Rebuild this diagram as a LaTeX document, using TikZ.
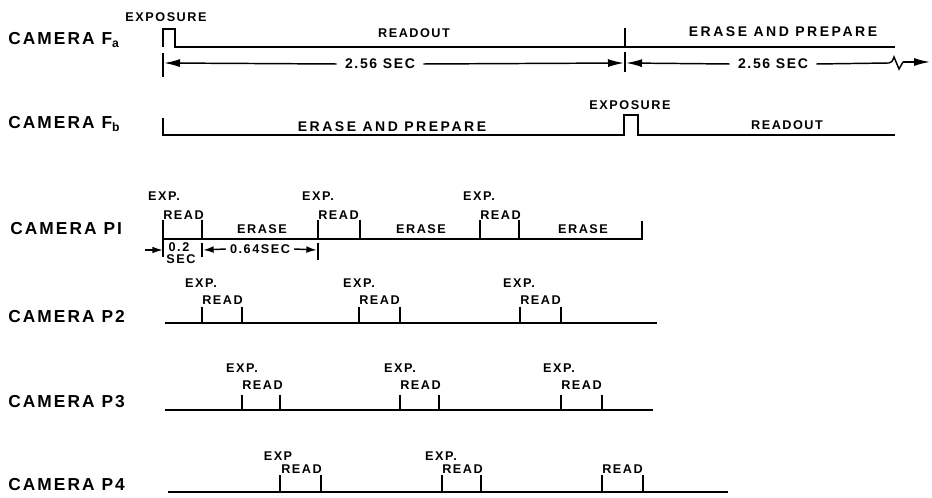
\documentclass[tikz,border=0pt]{standalone}
\usepackage{fontspec}
\setmainfont{Liberation Sans}[LetterSpace=12]
\usetikzlibrary{arrows.meta}
\tikzset{
    camlabel/.style={anchor=west,inner sep=0pt,font=\fontsize{13}{15}\selectfont\bfseries},
    tag/.style={inner sep=0pt,font=\fontsize{9.5}{11}\selectfont\bfseries},
    widetag/.style={inner sep=0pt,font=\fontsize{10.5}{12}\selectfont\bfseries\addfontfeature{LetterSpace=18}},
    readtag/.style={tag,anchor=west},
    dimtag/.style={inner sep=0pt,inner xsep=6pt,font=\fontsize{10.5}{12}\selectfont\bfseries},
    trace/.style={line width=2.2pt},
    dimline/.style={line width=1.1pt},
    dimarrow/.style={dimline,-{Latex[length=12pt,width=6pt]}},
    smallarrow/.style={dimline,-{Latex[length=8pt,width=5pt]}}
}
\begin{document}
\begin{tikzpicture}[x=0.75pt,y=0.75pt,yscale=-1,xscale=1]
        \useasboundingbox (0,0) rectangle (932,498);
        % camera Fa
        \node[camlabel] (camFa) at (8,40) {CAMERA F\textsubscript{a}};
        \draw[trace] (163,47) -- (163,29) -- (175,29) -- (175,47) -- (895,47) ;
        \draw[trace] (625,28) -- (625,47) ;
        \node[tag] (faExp) at (166,17) {EXPOSURE};
        \node[tag] (faRead) at (414,33) {READOUT};
        \node[widetag] (faErase) at (783,32) {ERASE AND PREPARE};
        \draw[dimline] (163,53) -- (163,77) ;
        \draw[dimline] (625,52) -- (625,72) ;
        \coordinate (faL) at (164,63);
        \coordinate (faM) at (624,63);
        \coordinate (faN) at (626,63);
        \coordinate (faZ) at (903,62);
        \coordinate (faR) at (930,62);
        \node[dimtag] (faSecA) at (380,64) {2.56 SEC};
        \node[dimtag] (faSecB) at (773,64) {2.56 SEC};
        \draw[dimarrow] (faSecA.west) -- (faL) ;
        \draw[dimarrow] (faSecA.east) -- (faM) ;
        \draw[dimarrow] (faSecB.west) -- (faN) ;
        % break mark before the open end
        \draw[dimline] (faSecB.east) -- (889,63) .. controls (892,62) .. (894,57) -- (899,69) -- (faZ) ;
        \draw[dimarrow] (faZ) -- (faR) ;
        % camera Fb
        \node[camlabel] (camFb) at (8,124) {CAMERA F\textsubscript{b}};
        \draw[trace] (163,118) -- (163,135) -- (624,135) -- (624,115) -- (638,115) -- (638,135) -- (895,135) ;
        \node[widetag] (fbErase) at (392,127) {ERASE AND PREPARE};
        \node[tag] (fbExp) at (630,105) {EXPOSURE};
        \node[tag] (fbRead) at (787,125) {READOUT};
        % camera P1
        \node[camlabel] (camPa) at (10,229) {CAMERA PI};
        \draw[trace] (163,220) -- (163,239) -- (642,239) -- (642,221) ;
        \draw[trace] (202,220) -- (202,239) (318,220) -- (318,239) (360,220) -- (360,239) (480,220) -- (480,239) (519,220) -- (519,239) ;
        \node[tag] (paExpA) at (164,196) {EXP.};
        \node[tag] (paExpB) at (318,196) {EXP.};
        \node[tag] (paExpC) at (479,196) {EXP.};
        \node[readtag] (paReadA) at (163,215) {READ};
        \node[readtag] (paReadB) at (318,215) {READ};
        \node[readtag] (paReadC) at (480,215) {READ};
        \node[tag] (paEraseA) at (262,229) {ERASE};
        \node[tag] (paEraseB) at (421,229) {ERASE};
        \node[tag] (paEraseC) at (583,229) {ERASE};
        \draw[dimline] (163,239) -- (163,257) ;
        \draw[dimline] (202,243) -- (202,257) ;
        \draw[dimline] (318,243) -- (318,260) ;
        \coordinate (paD0) at (145,250);
        \coordinate (paD1) at (163,250);
        \coordinate (paD2) at (203,250);
        \coordinate (paD3) at (317,250);
        \draw[smallarrow] (paD0) -- (paD1) ;
        \node[tag] (paTwo) at (179,247) {0.2};
        \node[tag] (paSec) at (181,259) {SEC};
        \node[tag,inner xsep=3pt] (paSecB) at (260,249) {0.64SEC};
        \draw[smallarrow] (paSecB.west) -- (paD2) ;
        \draw[smallarrow] (paSecB.east) -- (paD3) ;
        % camera P2
        \node[camlabel] (camPb) at (8,317) {CAMERA P2};
        \draw[trace] (165,323) -- (657,323) ;
        \draw[trace] (202,307) -- (202,323) (242,307) -- (242,323) (359,307) -- (359,323) (400,307) -- (400,323) (520,307) -- (520,323) (561,307) -- (561,323) ;
        \node[tag] (pbExpA) at (201,283) {EXP.};
        \node[tag] (pbExpB) at (359,283) {EXP.};
        \node[tag] (pbExpC) at (519,283) {EXP.};
        \node[readtag] (pbReadA) at (202,300) {READ};
        \node[readtag] (pbReadB) at (359,300) {READ};
        \node[readtag] (pbReadC) at (520,300) {READ};
        % camera P3
        \node[camlabel] (camPc) at (8,402) {CAMERA P3};
        \draw[trace] (165,410) -- (653,410) ;
        \draw[trace] (242,395) -- (242,410) (280,395) -- (280,410) (400,395) -- (400,410) (439,395) -- (439,410) (561,395) -- (561,410) (602,395) -- (602,410) ;
        \node[tag] (pcExpA) at (242,368) {EXP.};
        \node[tag] (pcExpB) at (400,368) {EXP.};
        \node[tag] (pcExpC) at (559,368) {EXP.};
        \node[readtag] (pcReadA) at (242,385) {READ};
        \node[readtag] (pcReadB) at (400,385) {READ};
        \node[readtag] (pcReadC) at (561,385) {READ};
        % camera P4
        \node[camlabel] (camPd) at (8,485) {CAMERA P4};
        \draw[trace] (168,492) -- (728,492) ;
        \draw[trace] (280,475) -- (280,492) (321,475) -- (321,492) (442,475) -- (442,492) (481,475) -- (481,492) (602,475) -- (602,492) (643,475) -- (643,492) ;
        \node[tag] (pdExpA) at (278,456) {EXP};
        \node[tag] (pdExpB) at (441,456) {EXP.};
        \node[readtag] (pdReadA) at (281,469) {READ};
        \node[readtag] (pdReadB) at (442,469) {READ};
        \node[readtag] (pdReadC) at (602,469) {READ};
    \end{tikzpicture}
\end{document}
